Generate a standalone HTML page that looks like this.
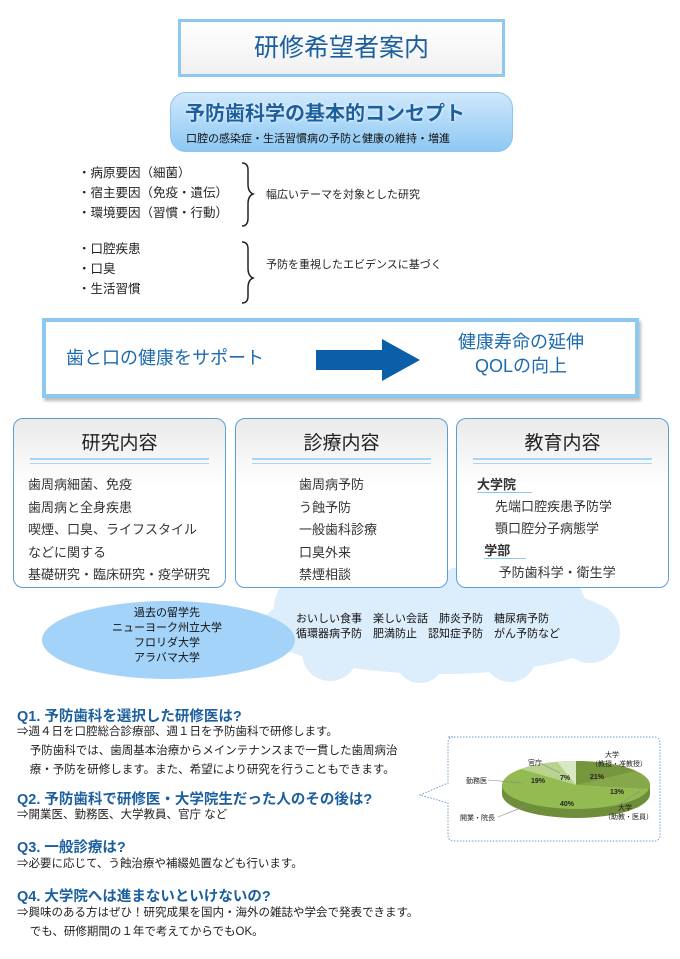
<!DOCTYPE html>
<html><head><meta charset="utf-8"><style>
body{margin:0;width:680px;height:959px;background:#fff;font-family:"Liberation Sans","Noto Sans CJK JP",sans-serif;position:relative;overflow:hidden;color:#222}
.a{position:absolute}
.title{left:178px;top:19px;width:321px;height:52px;border:3px solid #8cc8f0;background:linear-gradient(#fff,#f0f0f0);text-align:center;font-size:25px;line-height:52px;color:#1b5f9e}
.pill{left:170px;top:92px;width:341px;height:58px;border-radius:16px;background:linear-gradient(#cfe8fb,#8dc8f3);border:1px solid #8cc4ee}
.s13{font-size:12.5px;line-height:20px}
.big{left:42px;top:318px;width:589px;height:72px;border:4px solid #8cc8f0;background:#fff;box-shadow:2px 3px 3px #bbb}
.box{top:418px;width:211px;height:168px;border:1px solid #5a9fd8;border-radius:10px;background:linear-gradient(#eaeaea,#fff 40%)}
.box h3{margin:0;font-weight:normal;font-size:19px;text-align:center;padding-top:9px;height:30px;color:#222}
.box .ln{margin:0 16px;height:3px;border-top:2px solid #a8d4f5;border-bottom:1px solid #a8d4f5}
.box .c{font-size:13px;line-height:22.5px;padding-top:10px;color:#333}
.q{font-size:14.5px;color:#1b5f9e;font-weight:bold}
.t{font-size:11.5px;line-height:19px;color:#222}
</style></head><body>
<div class="a title">研修希望者案内</div>
<div class="a pill"><div style="position:absolute;left:14px;top:4px;font-size:20px;color:#1b5f9e;font-weight:bold;text-shadow:0 0 3px #fff">予防歯科学の基本的コンセプト</div>
<div style="position:absolute;left:15px;top:37px;font-size:11px;color:#111">口腔の感染症・生活習慣病の予防と健康の維持・増進</div></div>
<div class="a s13" style="left:78px;top:163px">・病原要因（細菌）<br>・宿主要因（免疫・遺伝）<br>・環境要因（習慣・行動）</div>
<svg class="a" style="left:238px;top:160px" width="20" height="150"><g fill="none" stroke="#222" stroke-width="1.5">
<path d="M4,3 Q10,3 10,10 V24 Q10,32 15,34 Q10,36 10,44 V58 Q10,66 4,66"/>
<path d="M4,82 Q10,82 10,89 V108 Q10,116 15,118 Q10,120 10,128 V136 Q10,143 4,143"/></g></svg>
<div class="a" style="left:266px;top:186px;font-size:11px">幅広いテーマを対象とした研究</div>
<div class="a s13" style="left:78px;top:239px">・口腔疾患<br>・口臭<br>・生活習慣</div>
<div class="a" style="left:266px;top:256px;font-size:11px">予防を重視したエビデンスに基づく</div>
<div class="a big">
<div class="a" style="left:20px;top:22px;font-size:18px;color:#1b6aae">歯と口の健康をサポート</div>
<svg class="a" style="left:270px;top:17px" width="106" height="42"><polygon points="0,11 66,11 66,0 104,21 66,42 66,31 0,31" fill="#0b5ea8"/></svg>
<div class="a" style="left:395px;top:8px;width:160px;text-align:center;font-size:18px;line-height:24px;color:#1b6aae">健康寿命の延伸<br>QOLの向上</div>
</div>
<svg class="a" style="left:250px;top:568px" width="380" height="115"><g fill="#dcedfb"><ellipse cx="190" cy="58" rx="178" ry="48"/><circle cx="60" cy="40" r="36"/><circle cx="130" cy="30" r="35"/><circle cx="220" cy="30" r="35"/><circle cx="300" cy="40" r="36"/><circle cx="340" cy="65" r="30"/><circle cx="80" cy="85" r="28"/><circle cx="170" cy="90" r="25"/><circle cx="260" cy="88" r="26"/></g></svg>
<div class="a box" style="left:13px"><h3>研究内容</h3><div class="ln"></div><div class="c" style="padding-left:14px">歯周病細菌、免疫<br>歯周病と全身疾患<br>喫煙、口臭、ライフスタイル<br>などに関する<br>基礎研究・臨床研究・疫学研究</div></div>
<div class="a box" style="left:235px"><h3>診療内容</h3><div class="ln"></div><div class="c" style="padding-left:63px">歯周病予防<br>う蝕予防<br>一般歯科診療<br>口臭外来<br>禁煙相談</div></div>
<div class="a box" style="left:456px"><h3>教育内容</h3><div class="ln"></div><div class="c" style="padding-left:20px;line-height:22px"><b style="border-bottom:1px solid #8cc8f0;padding-right:16px">大学院</b><br>&nbsp;&nbsp;&nbsp;&nbsp;&nbsp;先端口腔疾患予防学<br>&nbsp;&nbsp;&nbsp;&nbsp;&nbsp;顎口腔分子病態学<br>&nbsp;&nbsp;<b style="border-bottom:1px solid #8cc8f0;padding-right:16px">学部</b><br>&nbsp;&nbsp;&nbsp;&nbsp;&nbsp;&nbsp;予防歯科学・衛生学</div></div>
<div class="a" style="left:42px;top:601px;width:253px;height:78px;border-radius:50%;background:#a3d3f8"></div>
<div class="a" style="left:92px;top:606px;width:150px;text-align:center;font-size:11px;line-height:15px;color:#111">過去の留学先<br>ニューヨーク州立大学<br>フロリダ大学<br>アラバマ大学</div>
<div class="a" style="left:296px;top:612px;font-size:11px;line-height:15px;color:#111">おいしい食事　楽しい会話　肺炎予防　糖尿病予防<br>循環器病予防　肥満防止　認知症予防　がん予防など</div>
<div class="a q" style="left:17px;top:705px">Q1. 予防歯科を選択した研修医は?</div>
<div class="a t" style="left:17px;top:723px">⇒週４日を口腔総合診療部、週１日を予防歯科で研修します。<br>&nbsp;&nbsp;&nbsp;&nbsp;予防歯科では、歯周基本治療からメインテナンスまで一貫した歯周病治<br>&nbsp;&nbsp;&nbsp;&nbsp;療・予防を研修します。また、希望により研究を行うこともできます。</div>
<div class="a q" style="left:17px;top:788px">Q2. 予防歯科で研修医・大学院生だった人のその後は?</div>
<div class="a t" style="left:17px;top:806px">⇒開業医、勤務医、大学教員、官庁 など</div>
<div class="a q" style="left:17px;top:836px">Q3. 一般診療は?</div>
<div class="a t" style="left:17px;top:855px">⇒必要に応じて、う蝕治療や補綴処置なども行います。</div>
<div class="a q" style="left:17px;top:885px">Q4. 大学院へは進まないといけないの?</div>
<div class="a t" style="left:17px;top:904px">⇒興味のある方はぜひ！研究成果を国内・海外の雑誌や学会で発表できます。<br>&nbsp;&nbsp;&nbsp;&nbsp;でも、研修期間の１年で考えてからでもOK。</div>
<svg class="a" style="left:418px;top:733px" width="246" height="114">
<path d="M30,4 H236 Q242,4 242,10 V102 Q242,108 236,108 H36 Q30,108 30,102 V70 L2,62 L30,50 V10 Q30,4 36,4Z" fill="none" stroke="#6c9fd0" stroke-width="1" stroke-dasharray="1.5,1.5"/>
<ellipse cx="158" cy="61" rx="74" ry="24" fill="#6e8e3c"/>
<rect x="84" y="52" width="148" height="9" fill="#6e8e3c"/>
<ellipse cx="158" cy="52" rx="74" ry="24" fill="#94bb52"/>
<path d="M158,52 L158,28 A74,24 0 0,1 218,38Z" fill="#76963e"/>
<path d="M158,52 L218,38 A74,24 0 0,1 231,56Z" fill="#87a84a"/>
<path d="M158,52 L103,36 A74,24 0 0,1 158,28Z" fill="#b9d38e"/>
<path d="M158,52 L139,28.5 A74,24 0 0,1 158,28Z" fill="#d9e8c4"/>
<g font-size="7" fill="#222" font-weight="bold"><text x="113" y="50">19%</text><text x="142" y="47">7%</text><text x="172" y="46">21%</text><text x="192" y="61">13%</text><text x="142" y="73">40%</text></g>
<g font-size="7" fill="#222"><text x="48" y="50">勤務医</text><text x="110" y="32">官庁</text><text x="187" y="24">大学</text><text x="173" y="33">（教授・准教授）</text><text x="200" y="77">大学</text><text x="186" y="86">（助教・医員）</text><text x="42" y="87">開業・院長</text></g>
<g stroke="#888" stroke-width="0.6" fill="none"><path d="M70,47 L105,50"/><path d="M122,30 L142,40"/><path d="M205,30 L185,38"/><path d="M200,72 L222,58"/><path d="M80,84 L110,72"/></g>
</svg>
</body></html>
